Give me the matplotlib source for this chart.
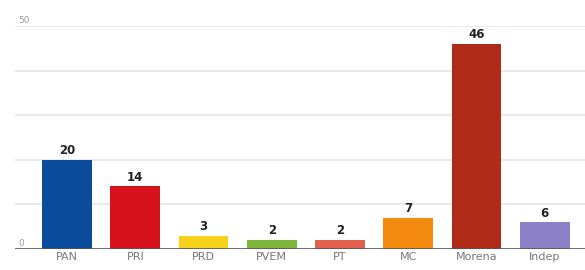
import matplotlib.pyplot as plt

partidos = ['PAN', 'PRI', 'PRD', 'PVEM', 'PT', 'MC', 'Morena', 'Indep']
valores = [20, 14, 3, 2, 2, 7, 46, 6]
colores = ['#0b4b9b', '#d8121c', '#f6d31a', '#7cb63a', '#e2614c', '#f58a10', '#b02a18', '#8c80c6']
marcas_y = [0, 50]

fig = plt.figure(figsize=(5.85, 2.7), dpi=100)
ax = fig.add_axes([0.026, 0.078, 0.974, 0.826])

x = range(len(partidos))
ax.bar(x, valores, width=0.73, color=colores, zorder=3)

# etiquetas sobre las barras
for i, v in enumerate(valores):
    ax.text(i, v + 0.6, str(v), ha='center', va='bottom', fontsize=8.5,
            fontweight='bold', color='#222222', zorder=4)

# rejilla horizontal
for g in range(10, 51, 10):
    ax.axhline(g, color='#e6e6e6', linewidth=1.2, zorder=1)
ax.axhline(0, color='#555555', linewidth=1.2, zorder=4)

for m in marcas_y:
    ax.text(-0.72, m + 0.3, str(m), ha='left', va='bottom', fontsize=6.5,
            color='#999999')

ax.set_xlim(-0.76, 7.59)
ax.set_ylim(0, 50)
ax.set_xticks(list(x))
ax.set_xticklabels(partidos, fontsize=8, color='#777777')
ax.tick_params(axis='x', length=0, pad=2)
ax.set_yticks([])
for s in ax.spines.values():
    s.set_visible(False)

fig.savefig('out.png', dpi=100)
